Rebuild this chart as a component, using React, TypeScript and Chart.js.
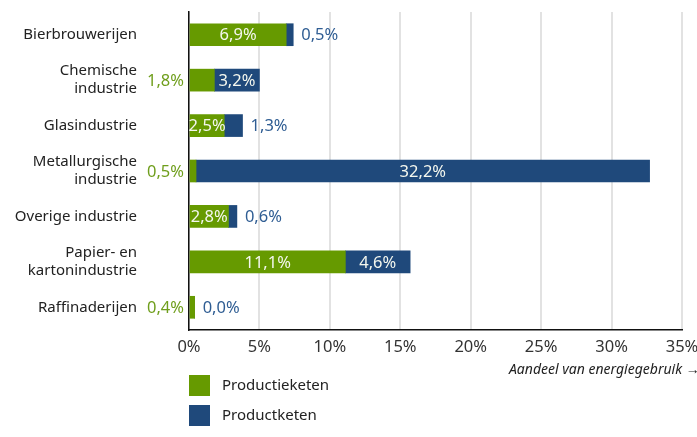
import React, { useEffect, useRef } from "react";
import { Chart, registerables } from "chart.js";

Chart.register(...registerables);

const categories: string[][] = [
  ["Bierbrouwerijen"],
  ["Chemische", "industrie"],
  ["Glasindustrie"],
  ["Metallurgische", "industrie"],
  ["Overige industrie"],
  ["Papier- en", "kartonindustrie"],
  ["Raffinaderijen"],
];
const productieketen: number[] = [6.9, 1.8, 2.5, 0.5, 2.8, 11.1, 0.4];
const productketen: number[] = [0.5, 3.2, 1.3, 32.2, 0.6, 4.6, 0.0];
const seriesNames: string[] = ["Productieketen", "Productketen"];
const xTicks: number[] = [0, 5, 10, 15, 20, 25, 30, 35];
const axisTitle = "Aandeel van energiegebruik \u2192";

const GREEN = "#669a00";
const BLUE = "#1f497b";
const GREEN_TXT = "#6f9e1c";
const BLUE_TXT = "#2f5d93";
const FONT = "'Noto Sans', sans-serif";

const fmt = (v: number) => v.toFixed(1).replace(".", ",") + "%";

const labelPlugin = {
  id: "valueLabels",
  afterDatasetsDraw(chart: any) {
    const ctx = chart.ctx;
    const area = chart.chartArea;
    ctx.save();
    ctx.font = `16.5px ${FONT}`;
    ctx.textBaseline = "middle";
    chart.data.datasets.forEach((ds: any, di: number) => {
      const meta = chart.getDatasetMeta(di);
      meta.data.forEach((el: any, i: number) => {
        const v = ds.data[i];
        const p = el.getProps(["x", "base", "y"], true);
        const left = Math.min(p.x, p.base);
        const right = Math.max(p.x, p.base);
        const w = right - left;
        const txt = fmt(v);
        const tw = ctx.measureText(txt).width;
        if (w >= tw - 4) {
          ctx.fillStyle = "#f4f7ee";
          ctx.textAlign = "center";
          ctx.fillText(txt, (left + right) / 2, p.y + 1);
        } else if (di === 0) {
          ctx.fillStyle = GREEN_TXT;
          ctx.textAlign = "right";
          ctx.fillText(txt, area.left - 5, p.y + 1);
        } else {
          ctx.fillStyle = BLUE_TXT;
          ctx.textAlign = "left";
          ctx.fillText(txt, right + 8, p.y + 1);
        }
      });
    });
    ctx.restore();
  },
  afterDraw(chart: any) {
    const ctx = chart.ctx;
    const area = chart.chartArea;
    ctx.save();
    ctx.font = `italic 14px ${FONT}`;
    ctx.fillStyle = "#222";
    ctx.textAlign = "left";
    ctx.textBaseline = "middle";
    ctx.fillText(axisTitle, 509, area.bottom + 40);
    const colors = [GREEN, BLUE];
    ctx.font = `15px ${FONT}`;
    seriesNames.forEach((name, i) => {
      const y = area.bottom + 45 + i * 30;
      ctx.fillStyle = colors[i];
      ctx.fillRect(area.left, y, 21, 21);
      ctx.fillStyle = "#222";
      ctx.fillText(name, area.left + 33, y + 11);
    });
    ctx.restore();
  },
};

export default function App() {
  const ref = useRef<HTMLCanvasElement | null>(null);
  useEffect(() => {
    if (!ref.current) return;
    const chart = new Chart(ref.current, {
      type: "bar",
      data: {
        labels: categories,
        datasets: [
          { label: seriesNames[0], data: productieketen, backgroundColor: GREEN, barThickness: 22 },
          { label: seriesNames[1], data: productketen, backgroundColor: BLUE, barThickness: 22 },
        ],
      },
      options: {
        indexAxis: "y",
        animation: false,
        responsive: false,
        maintainAspectRatio: false,
        layout: { padding: { top: 12, right: 15, left: 0, bottom: 0 } },
        plugins: { legend: { display: false }, tooltip: { enabled: false } },
        scales: {
          x: {
            stacked: true,
            min: 0,
            max: 35,
            afterBuildTicks: (scale: any) => {
              scale.ticks = xTicks.map((v) => ({ value: v }));
            },
            afterFit: (scale: any) => {
              scale.height = 107;
              scale.paddingLeft = 0;
              scale.paddingRight = 0;
            },
            ticks: {
              callback: (v: any) => v + "%",
              font: { family: FONT, size: 16.5 },
              color: "#333",
              padding: 7,
              maxRotation: 0,
              autoSkip: false,
            },
            grid: { color: "#e2e2e2", lineWidth: 2, drawTicks: false },
            border: { display: true, color: "#111", width: 1.5 },
          },
          y: {
            stacked: true,
            afterFit: (scale: any) => {
              scale.width = 189;
              scale.paddingTop = 0;
              scale.paddingBottom = 0;
            },
            ticks: {
              font: { family: FONT, size: 15, lineHeight: 1.2 },
              color: "#222",
              padding: 52,
              autoSkip: false,
            },
            grid: { display: false, drawTicks: false },
            border: { display: true, color: "#111", width: 1.5 },
          },
        },
      },
      plugins: [labelPlugin],
    });
    return () => chart.destroy();
  }, []);
  return (
    <div style={{ position: "fixed", left: 0, top: 0, width: 697, height: 437, background: "#fff" }}>
      <canvas ref={ref} width={697} height={437} style={{ width: 697, height: 437 }} />
    </div>
  );
}
